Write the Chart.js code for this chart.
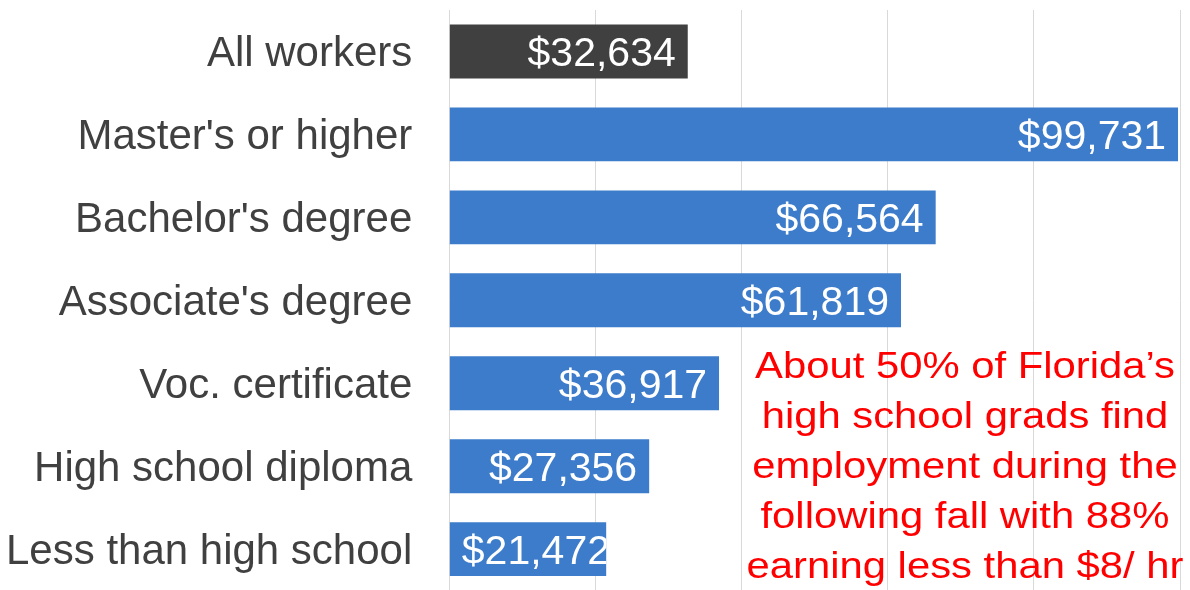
<!DOCTYPE html>
<html>
<head>
<meta charset="utf-8">
<script src="https://cdn.jsdelivr.net/npm/chart.js@4/dist/chart.umd.min.js"></script>
<style>
  html, body { margin: 0; padding: 0; background: #fff; overflow: hidden; }
  #wrap { width: 1190px; height: 599px; }
</style>
</head>
<body>
<div id="wrap"><canvas id="barChart"></canvas></div>
<script>
const categories = ['All workers', "Master's or higher", "Bachelor's degree", "Associate's degree",
    'Voc. certificate', 'High school diploma', 'Less than high school'];
const earnings = [32634, 99731, 66564, 61819, 36917, 27356, 21472];
const barColors = ['#404040', '#3d7cca', '#3d7cca', '#3d7cca', '#3d7cca', '#3d7cca', '#3d7cca'];
const noteLines = ['About 50% of Florida\u2019s', 'high school grads find', 'employment during the',
    'following fall with 88%', 'earning less than $8/ hr'];

const fontFamily = 'Arial, "Liberation Sans", sans-serif';

// white value labels at the end of each bar, clipped to the bar
const valueLabels = {
    id: 'valueLabels',
    afterDatasetsDraw(chart) {
        const ctx = chart.ctx;
        const meta = chart.getDatasetMeta(0);
        ctx.save();
        ctx.font = '41px ' + fontFamily;
        ctx.fillStyle = '#ffffff';
        ctx.textAlign = 'left';
        ctx.textBaseline = 'alphabetic';
        meta.data.forEach((bar, i) => {
            const txt = '$' + earnings[i].toLocaleString('en-US');
            const w = ctx.measureText(txt).width;
            const x = Math.max(bar.x - 12 - w, bar.base + 12);
            ctx.save();
            ctx.beginPath();
            ctx.rect(bar.base, bar.y - bar.height / 2, bar.x - bar.base, bar.height);
            ctx.clip();
            ctx.fillText(txt, x, bar.y + 15);
            ctx.restore();
        });
        ctx.restore();
    }
};

// red note in the lower right (text is a bit wide in the original)
const note = {
    id: 'note',
    afterDraw(chart) {
        const ctx = chart.ctx;
        ctx.save();
        ctx.translate(965, 0);
        ctx.scale(1.13, 1);
        ctx.font = '37px ' + fontFamily;
        ctx.fillStyle = '#ff0000';
        ctx.textAlign = 'center';
        ctx.textBaseline = 'alphabetic';
        noteLines.forEach((line, i) => {
            ctx.fillText(line, 0, 378 + i * 50);
        });
        ctx.restore();
    }
};

new Chart('barChart', {
    type: 'bar',
    data: {
        labels: categories,
        datasets: [{
            data: earnings,
            backgroundColor: barColors,
            borderWidth: 0,
            barPercentage: 0.65,
            categoryPercentage: 1
        }]
    },
    options: {
        indexAxis: 'y',
        responsive: true,
        maintainAspectRatio: false,
        animation: false,
        layout: { padding: { top: 10, right: 10, bottom: 0, left: 6 } },
        plugins: {
            legend: { display: false },
            tooltip: { enabled: false }
        },
        scales: {
            x: {
                min: 0,
                max: 100000,
                ticks: { display: false, stepSize: 20000 },
                grid: { color: '#d9d9d9', drawTicks: false },
                border: { display: false }
            },
            y: {
                ticks: {
                    color: '#404040',
                    padding: 0,
                    labelOffset: 3,
                    font: { family: fontFamily, size: 42, lineHeight: 0.4 }
                },
                grid: {
                    drawOnChartArea: false,
                    drawTicks: true,
                    tickLength: 37,
                    color: 'rgba(0,0,0,0)'
                },
                border: { display: true, color: '#d9d9d9' }
            }
        }
    },
    plugins: [valueLabels, note]
});
</script>
</body>
</html>
